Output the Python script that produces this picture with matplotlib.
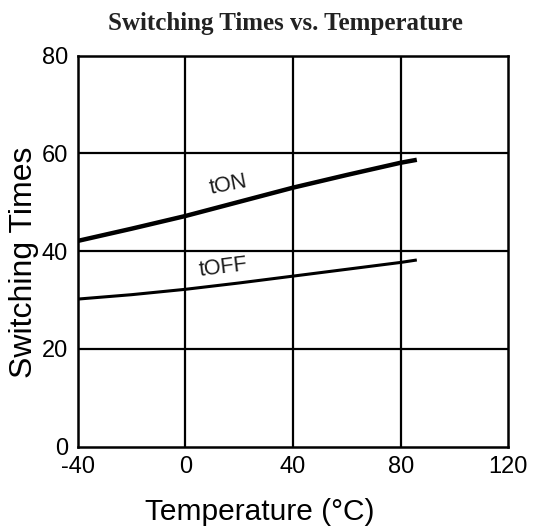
import matplotlib
matplotlib.use("Agg")
import matplotlib.pyplot as plt

temperature = [-40, -20, 0, 20, 40, 60, 80, 86]
t_on = [42.1, 44.6, 47.2, 50.1, 53.0, 55.6, 58.1, 58.7]
t_off = [30.2, 31.1, 32.2, 33.5, 34.9, 36.3, 37.7, 38.2]
x_ticks = [-40, 0, 40, 80, 120]
y_ticks = [0, 20, 40, 60, 80]

sans = ["Liberation Sans", "DejaVu Sans"]
fig = plt.figure(figsize=(5.45, 5.26), dpi=100)
ax = fig.add_axes([0.1426, 0.1508, 0.7901, 0.7433])

ax.set_xlim(-40, 120)
ax.set_ylim(0, 80)
for xv in x_ticks[1:-1]:
    ax.axvline(xv, color="black", lw=1.6, zorder=1)
for yv in y_ticks[1:-1]:
    ax.axhline(yv, color="black", lw=1.6, zorder=1)

ax.plot(temperature, t_on, color="black", lw=3.2, solid_capstyle="butt", zorder=3)
ax.plot(temperature, t_off, color="black", lw=2.2, solid_capstyle="butt", zorder=3)

ax.text(16, 50.6, "tON", fontsize=15.5, family=sans, rotation=11, ha="center", va="bottom", color="#1a1a1a")
ax.text(14, 34.0, "tOFF", fontsize=15.5, family=sans, rotation=7, ha="center", va="bottom", color="#1a1a1a")

ax.set_xticks(x_ticks)
ax.set_yticks(y_ticks)
ax.set_xticklabels([str(v) for v in x_ticks], fontsize=17, family=sans)
ax.set_yticklabels([str(v) for v in y_ticks], fontsize=17, family=sans)
ax.tick_params(length=0, pad=7)
for s in ax.spines.values():
    s.set_linewidth(1.8)

ax.set_xlabel("Temperature (°C)", fontsize=21.5, family=sans)
ax.set_ylabel("Switching Times", fontsize=23, family=sans)
ax.xaxis.set_label_coords(0.423, -0.13)
ax.yaxis.set_label_coords(-0.09, 0.472)
fig.text(0.523, 0.956, "Switching Times vs. Temperature", fontsize=18, fontweight="bold",
         family=["Liberation Serif", "DejaVu Serif"], ha="center", va="center", color="#222222")

fig.savefig("out.png", dpi=100)
